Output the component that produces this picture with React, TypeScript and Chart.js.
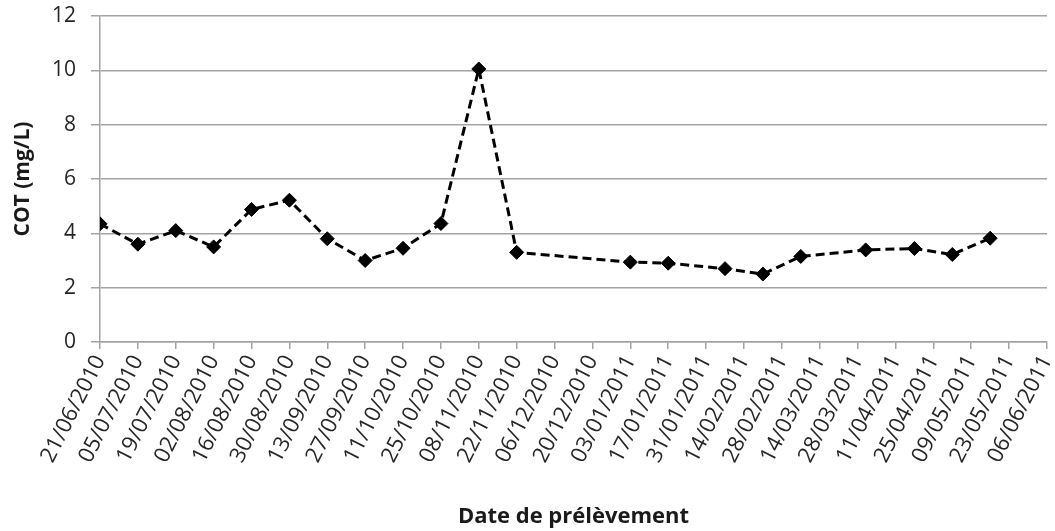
import React, { useEffect, useRef } from "react";
import { Chart, registerables } from "chart.js";

Chart.register(...registerables);

// Axis range (dates dd/mm/yyyy)
const axisStart = "21/06/2010";
const axisEnd = "06/06/2011";
const tickStepDays = 14;

// Sampling dates and COT values (mg/L)
const sampleDates = [
  "21/06/2010", "05/07/2010", "19/07/2010", "02/08/2010", "16/08/2010",
  "30/08/2010", "13/09/2010", "27/09/2010", "11/10/2010", "25/10/2010",
  "08/11/2010", "22/11/2010", "03/01/2011", "17/01/2011", "07/02/2011",
  "21/02/2011", "07/03/2011", "31/03/2011", "18/04/2011", "02/05/2011",
  "16/05/2011",
];
const cotValues = [
  4.35, 3.6, 4.1, 3.5, 4.88,
  5.22, 3.8, 3.0, 3.45, 4.36,
  10.05, 3.3, 2.94, 2.9, 2.7,
  2.5, 3.15, 3.39, 3.44, 3.22,
  3.82,
];

const DAY = 86400000;
function parseDate(s: string): number {
  const [d, m, y] = s.split("/").map(Number);
  return Date.UTC(y, m - 1, d);
}
const t0 = parseDate(axisStart);
const toDays = (s: string) => Math.round((parseDate(s) - t0) / DAY);
function fmt(days: number): string {
  const dt = new Date(t0 + days * DAY);
  const dd = String(dt.getUTCDate()).padStart(2, "0");
  const mm = String(dt.getUTCMonth() + 1).padStart(2, "0");
  return `${dd}/${mm}/${dt.getUTCFullYear()}`;
}

const points = sampleDates.map((d, i) => ({ x: toDays(d), y: cotValues[i] }));

const FONT = "'Open Sans', 'Noto Sans', sans-serif";
const GRID = "#a3a3a3";

export default function App() {
  const ref = useRef<HTMLCanvasElement | null>(null);
  useEffect(() => {
    if (!ref.current) return;
    const chart = new Chart(ref.current, {
      type: "line",
      data: {
        datasets: [
          {
            data: points,
            borderColor: "#000",
            backgroundColor: "#000",
            borderWidth: 3,
            borderDash: [9, 5],
            tension: 0,
            pointStyle: "rectRot",
            pointRadius: 7,
            pointBackgroundColor: "#000",
            pointBorderColor: "#000",
            pointBorderWidth: 1,
          },
        ],
      },
      options: {
        responsive: false,
        animation: false,
        layout: { padding: { top: 16, right: 8, left: 6, bottom: 0 } },
        plugins: { legend: { display: false }, tooltip: { enabled: false } },
        scales: {
          x: {
            type: "linear",
            min: 0,
            max: toDays(axisEnd),
            afterBuildTicks: (scale: any) => {
              const ticks = [];
              for (let v = 0; v <= toDays(axisEnd); v += tickStepDays) ticks.push({ value: v });
              scale.ticks = ticks;
            },
            ticks: {
              autoSkip: false,
              maxRotation: 63,
              minRotation: 63,
              padding: 2,
              color: "#262626",
              font: { family: FONT, size: 22 },
              callback: (v: any) => fmt(Number(v)),
            },
            grid: {
              drawOnChartArea: false,
              drawTicks: true,
              tickLength: 7,
              color: GRID,
              lineWidth: 1.5,
            },
            border: { display: true, color: GRID, width: 1.5 },
            title: {
              display: true,
              text: "Date de prélèvement",
              color: "#1a1a1a",
              font: { family: FONT, size: 22, weight: "bold" },
              padding: { top: 2, bottom: 1 },
            },
            afterFit: (scale: any) => {
              scale.height = 531 - 342;
              scale.paddingRight = 0;
              scale.paddingLeft = 0;
            },
          },
          y: {
            min: 0,
            max: 12,
            ticks: {
              stepSize: 2,
              color: "#262626",
              padding: 15,
              font: { family: FONT, size: 21 },
            },
            grid: {
              color: GRID,
              lineWidth: 1.5,
              drawTicks: true,
              tickLength: 9,
            },
            border: { display: true, color: GRID, width: 1.5 },
            title: {
              display: true,
              text: "COT (mg/L)",
              color: "#1a1a1a",
              font: { family: FONT, size: 21, weight: "bold" },
              padding: { top: 4, bottom: 4 },
            },
            afterFit: (scale: any) => {
              scale.width = 100 - 6;
              scale.paddingTop = 0;
              scale.paddingBottom = 0;
            },
          },
        },
      },
    });
    return () => chart.destroy();
  }, []);
  return (
    <div style={{ position: "fixed", left: 0, top: 0, width: 1055, height: 531, background: "#fff" }}>
      <canvas ref={ref} width={1055} height={531} />
    </div>
  );
}
